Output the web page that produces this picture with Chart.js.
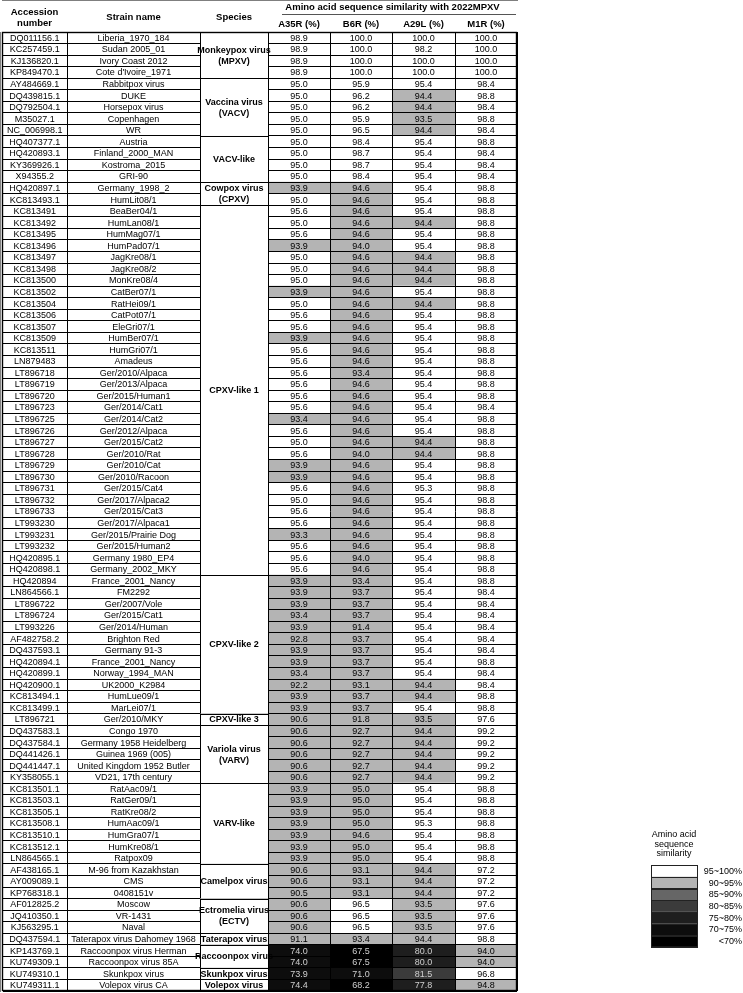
<!DOCTYPE html>
<html>
<head>
<meta charset="utf-8">
<script src="https://cdn.jsdelivr.net/npm/chart.js@4.4.1/dist/chart.umd.min.js"></script>
<style>
  html, body { margin: 0; padding: 0; background: #fff; }
  canvas { display: block; }
</style>
</head>
<body>
<canvas id="tbl" width="743" height="993"></canvas>
<script>
// rows, top to bottom
const accessions = [
  'DQ011156.1', 'KC257459.1', 'KJ136820.1', 'KP849470.1',
  'AY484669.1', 'DQ439815.1', 'DQ792504.1', 'M35027.1', 'NC_006998.1',
  'HQ407377.1', 'HQ420893.1', 'KY369926.1', 'X94355.2',
  'HQ420897.1', 'KC813493.1',
  'KC813491', 'KC813492', 'KC813495', 'KC813496', 'KC813497', 'KC813498', 'KC813500', 'KC813502',
  'KC813504', 'KC813506', 'KC813507', 'KC813509', 'KC813511', 'LN879483', 'LT896718', 'LT896719',
  'LT896720', 'LT896723', 'LT896725', 'LT896726', 'LT896727', 'LT896728', 'LT896729', 'LT896730',
  'LT896731', 'LT896732', 'LT896733', 'LT993230', 'LT993231', 'LT993232', 'HQ420895.1', 'HQ420898.1',
  'HQ420894', 'LN864566.1', 'LT896722', 'LT896724', 'LT993226', 'AF482758.2', 'DQ437593.1', 'HQ420894.1',
  'HQ420899.1', 'HQ420900.1', 'KC813494.1', 'KC813499.1',
  'LT896721',
  'DQ437583.1', 'DQ437584.1', 'DQ441426.1', 'DQ441447.1', 'KY358055.1',
  'KC813501.1', 'KC813503.1', 'KC813505.1', 'KC813508.1', 'KC813510.1', 'KC813512.1', 'LN864565.1',
  'AF438165.1', 'AY009089.1', 'KP768318.1',
  'AF012825.2', 'JQ410350.1', 'KJ563295.1',
  'DQ437594.1',
  'KP143769.1', 'KU749309.1',
  'KU749310.1',
  'KU749311.1'
];
const strains = [
  'Liberia_1970_184', 'Sudan 2005_01', 'Ivory Coast 2012', "Cote d'Ivoire_1971",
  'Rabbitpox virus', 'DUKE', 'Horsepox virus', 'Copenhagen', 'WR',
  'Austria', 'Finland_2000_MAN', 'Kostroma_2015', 'GRI-90',
  'Germany_1998_2', 'HumLit08/1',
  'BeaBer04/1', 'HumLan08/1', 'HumMag07/1', 'HumPad07/1', 'JagKre08/1', 'JagKre08/2', 'MonKre08/4', 'CatBer07/1',
  'RatHei09/1', 'CatPot07/1', 'EleGri07/1', 'HumBer07/1', 'HumGri07/1', 'Amadeus', 'Ger/2010/Alpaca', 'Ger/2013/Alpaca',
  'Ger/2015/Human1', 'Ger/2014/Cat1', 'Ger/2014/Cat2', 'Ger/2012/Alpaca', 'Ger/2015/Cat2', 'Ger/2010/Rat', 'Ger/2010/Cat', 'Ger/2010/Racoon',
  'Ger/2015/Cat4', 'Ger/2017/Alpaca2', 'Ger/2015/Cat3', 'Ger/2017/Alpaca1', 'Ger/2015/Prairie Dog', 'Ger/2015/Human2', 'Germany 1980_EP4', 'Germany_2002_MKY',
  'France_2001_Nancy', 'FM2292', 'Ger/2007/Vole', 'Ger/2015/Cat1', 'Ger/2014/Human', 'Brighton Red', 'Germany 91-3', 'France_2001_Nancy',
  'Norway_1994_MAN', 'UK2000_K2984', 'HumLue09/1', 'MarLei07/1',
  'Ger/2010/MKY',
  'Congo 1970', 'Germany 1958 Heidelberg', 'Guinea 1969 (005)', 'United Kingdom 1952 Butler', 'VD21, 17th century',
  'RatAac09/1', 'RatGer09/1', 'RatKre08/2', 'HumAac09/1', 'HumGra07/1', 'HumKre08/1', 'Ratpox09',
  'M-96 from Kazakhstan', 'CMS', '0408151v',
  'Moscow', 'VR-1431', 'Naval',
  'Taterapox virus Dahomey 1968',
  'Raccoonpox virus Herman', 'Raccoonpox virus 85A',
  'Skunkpox virus',
  'Volepox virus CA'
];

const speciesNames = [
  ['Monkeypox virus', '(MPXV)'], ['Vaccina virus', '(VACV)'], ['VACV-like'], ['Cowpox virus', '(CPXV)'],
  ['CPXV-like 1'], ['CPXV-like 2'], ['CPXV-like 3'], ['Variola virus', '(VARV)'], ['VARV-like'],
  ['Camelpox virus'], ['Ectromelia virus', '(ECTV)'], ['Taterapox virus'], ['Raccoonpox virus'],
  ['Skunkpox virus'], ['Volepox virus']
];
const speciesSizes = [4, 5, 4, 2, 32, 12, 1, 5, 7, 3, 3, 1, 2, 1, 1];

const geneNames = ['A35R (%)', 'B6R (%)', 'A29L (%)', 'M1R (%)'];

// similarity values (%); a few cells shaded one class lower than the rounded figure shows
const a35r = [
  98.9, 98.9, 98.9, 98.9,
  95.0, 95.0, 95.0, 95.0, 95.0,
  95.0, 95.0, 95.0, 95.0,
  93.9, 95.0,
  95.6, 95.0, 95.6, 93.9, 95.0, 95.0, 95.0, 93.9,
  95.0, 95.6, 95.6, 93.9, 95.6, 95.6, 95.6, 95.6,
  95.6, 95.6, 93.4, 95.6, 95.0, 95.6, 93.9, 93.9,
  95.6, 95.0, 95.6, 95.6, 93.3, 95.6, 95.6, 95.6,
  93.9, 93.9, 93.9, 93.4, 93.9, 92.8, 93.9, 93.9,
  93.4, 92.2, 93.9, 93.9,
  90.6,
  90.6, 90.6, 90.6, 90.6, 90.6,
  93.9, 93.9, 93.9, 93.9, 93.9, 93.9, 93.9,
  90.6, 90.6, 90.5,
  90.6, 90.6, 90.6,
  91.1,
  74.0, 74.0,
  73.9,
  74.4
];
const b6r = [
  100.0, 100.0, 100.0, 100.0,
  95.9, 96.2, 96.2, 95.9, 96.5,
  98.4, 98.7, 98.7, 98.4,
  94.6, 94.6,
  94.6, 94.6, 94.6, 94.0, 94.6, 94.6, 94.6, 94.6,
  94.6, 94.6, 94.6, 94.6, 94.6, 94.6, 93.4, 94.6,
  94.6, 94.6, 94.6, 94.6, 94.6, 94.0, 94.6, 94.6,
  94.6, 94.6, 94.6, 94.6, 94.6, 94.6, 94.0, 94.6,
  93.4, 93.7, 93.7, 93.7, 91.4, 93.7, 93.7, 93.7,
  93.7, 93.1, 93.7, 93.7,
  91.8,
  92.7, 92.7, 92.7, 92.7, 92.7,
  94.97, 94.97, 94.97, 94.97, 94.6, 94.97, 94.97,
  93.1, 93.1, 93.1,
  96.5, 96.5, 96.5,
  93.4,
  67.5, 67.5,
  71.0,
  68.2
];
const a29l = [
  100.0, 98.2, 100.0, 100.0,
  95.4, 94.4, 94.4, 93.5, 94.4,
  95.4, 95.4, 95.4, 95.4,
  95.4, 95.4,
  95.4, 94.4, 95.4, 95.4, 94.4, 94.4, 94.4, 95.4,
  94.4, 95.4, 95.4, 95.4, 95.4, 95.4, 95.4, 95.4,
  95.4, 95.4, 95.4, 95.4, 94.4, 94.4, 95.4, 95.4,
  95.3, 95.4, 95.4, 95.4, 95.4, 95.4, 95.4, 95.4,
  95.4, 95.4, 95.4, 95.4, 95.4, 95.4, 95.4, 95.4,
  95.4, 94.4, 94.4, 95.4,
  93.5,
  94.4, 94.4, 94.4, 94.4, 94.4,
  95.4, 95.4, 95.4, 95.3, 95.4, 95.4, 95.4,
  94.4, 94.4, 94.4,
  93.5, 93.5, 93.5,
  94.4,
  79.97, 79.97,
  81.5,
  77.8
];
const m1r = [
  100.0, 100.0, 100.0, 100.0,
  98.4, 98.8, 98.4, 98.8, 98.4,
  98.8, 98.4, 98.4, 98.4,
  98.8, 98.8,
  98.8, 98.8, 98.8, 98.8, 98.8, 98.8, 98.8, 98.8,
  98.8, 98.8, 98.8, 98.8, 98.8, 98.8, 98.8, 98.8,
  98.8, 98.4, 98.8, 98.8, 98.8, 98.8, 98.8, 98.8,
  98.8, 98.8, 98.8, 98.8, 98.8, 98.8, 98.8, 98.8,
  98.8, 98.4, 98.4, 98.4, 98.4, 98.4, 98.4, 98.8,
  98.4, 98.4, 98.8, 98.8,
  97.6,
  99.2, 99.2, 99.2, 99.2, 99.2,
  98.8, 98.8, 98.8, 98.8, 98.8, 98.8, 98.8,
  97.2, 97.2, 97.2,
  97.6, 97.6, 97.6,
  98.8,
  94.0, 94.0,
  96.8,
  94.8
];

const legendLabels = ['95~100%', '90~95%', '85~90%', '80~85%', '75~80%', '70~75%', '<70%'];
const legendBreaks = [95, 90, 85, 80, 75, 70];
const legendColors = ['#ffffff', '#b4b4b4', '#666666', '#3b3b3b', '#1e1e1e', '#0d0d0d', '#000000'];

// column edges in table units (accession | strain | species | 4 genes)
const colEdges = [0, 65, 198, 266, 328, 390, 453, 515];
const FONT = "'Liberation Sans', Arial, sans-serif";

function shade(v) {
  const i = legendBreaks.findIndex(b => v >= b);
  return legendColors[i === -1 ? legendColors.length - 1 : i];
}

const span = col => accessions.map(() => [colEdges[col], colEdges[col + 1]]);

const datasets = [
  { label: 'Accession number', data: span(0), backgroundColor: '#fff', texts: accessions },
  { label: 'Strain name', data: span(1), backgroundColor: '#fff', texts: strains },
  ...[a35r, b6r, a29l, m1r].map((vals, k) => ({
    label: geneNames[k],
    data: span(3 + k),
    backgroundColor: vals.map(shade),
    texts: vals.map(v => v.toFixed(1)),
    values: vals,
  })),
];

const tablePlugin = {
  id: 'tableText',
  afterDraw(chart) {
    const { ctx, chartArea: a, scales: { x, y } } = chart;
    const half = (y.getPixelForValue(1) - y.getPixelForValue(0)) / 2;
    const px = v => Math.round(v) + 0.5;
    ctx.save();
    ctx.textAlign = 'center';
    ctx.textBaseline = 'middle';

    // cell texts
    chart.data.datasets.forEach((ds, di) => {
      const meta = chart.getDatasetMeta(di);
      ctx.font = '9px ' + FONT;
      meta.data.forEach((bar, j) => {
        const dark = ds.values && ds.values[j] < 85;
        ctx.fillStyle = dark ? '#cfcfcf' : '#000';
        ctx.fillText(ds.texts[j], (bar.x + bar.base) / 2, bar.y + 0.5);
      });
    });

    // merged species cells
    const sl = x.getPixelForValue(colEdges[2]);
    const sr = x.getPixelForValue(colEdges[3]);
    let start = 0;
    ctx.strokeStyle = '#000';
    ctx.lineWidth = 1;
    speciesNames.forEach((lines, g) => {
      const n = speciesSizes[g];
      const top = y.getPixelForValue(start) - half;
      const bot = y.getPixelForValue(start + n - 1) + half;
      ctx.fillStyle = '#fff';
      ctx.fillRect(sl, top, sr - sl, bot - top);
      ctx.strokeRect(px(sl), px(top), px(sr) - px(sl), px(bot) - px(top));
      ctx.fillStyle = '#000';
      ctx.font = 'bold 9px ' + FONT;
      const mid = (top + bot) / 2;
      const lh = 11;
      lines.forEach((t, i) => {
        ctx.fillText(t, (sl + sr) / 2, mid + (i - (lines.length - 1) / 2) * lh + 0.5);
      });
      start += n;
    });

    // outer frame
    ctx.lineWidth = 1.4;
    ctx.strokeRect(a.left + 0.5, a.top + 0.5, a.right - a.left - 1, a.bottom - a.top - 1);

    // header
    const cx = i => x.getPixelForValue((colEdges[i] + colEdges[i + 1]) / 2);
    ctx.fillStyle = '#000';
    ctx.font = 'bold 9.5px ' + FONT;
    ctx.fillText('Accession', cx(0), a.top - 20);
    ctx.fillText('number', cx(0), a.top - 9);
    ctx.fillText('Strain name', cx(1), a.top - 15);
    ctx.fillText('Species', cx(2), a.top - 15);
    geneNames.forEach((t, k) => ctx.fillText(t, cx(3 + k), a.top - 8));
    const gl = x.getPixelForValue(colEdges[3]);
    const gr = x.getPixelForValue(colEdges[7]);
    ctx.fillText('Amino acid sequence similarity with 2022MPXV', (gl + gr) / 2, a.top - 25);
    ctx.strokeStyle = '#555';
    ctx.lineWidth = 1;
    ctx.beginPath();
    ctx.moveTo(gl + 14, px(a.top - 18));
    ctx.lineTo(gr - 1, px(a.top - 18));
    ctx.stroke();

    // colour key
    const kx = 651, kw = 46, ky = 865, kh = 11.7;
    ctx.font = '9px ' + FONT;
    ['Amino acid', 'sequence', 'similarity'].forEach((t, i) => ctx.fillText(t, 674, 835 + i * 9.5));
    legendColors.forEach((c, i) => {
      ctx.fillStyle = c;
      ctx.fillRect(kx, ky + i * kh, kw, kh);
    });
    ctx.strokeStyle = '#222';
    ctx.lineWidth = 1;
    legendColors.forEach((c, i) => {
      ctx.strokeRect(kx + 0.5, Math.round(ky + i * kh) + 0.5, kw, Math.round(kh));
    });
    ctx.fillStyle = '#000';
    ctx.textAlign = 'right';
    legendLabels.forEach((t, i) => ctx.fillText(t, 742, ky + (i + 0.5) * kh + 0.5));
    ctx.restore();
  }
};

new Chart(document.getElementById('tbl'), {
  type: 'bar',
  data: { labels: accessions, datasets },
  options: {
    indexAxis: 'y',
    responsive: false,
    animation: false,
    layout: { padding: { left: 2, right: 226, top: 32, bottom: 2 } },
    datasets: { bar: { grouped: false, barPercentage: 1, categoryPercentage: 1, borderWidth: 0 } },
    plugins: { legend: { display: false }, tooltip: { enabled: false } },
    scales: {
      x: {
        type: 'linear', min: colEdges[0], max: colEdges[colEdges.length - 1],
        afterBuildTicks: s => { s.ticks = colEdges.map(v => ({ value: v })); },
        ticks: { display: false },
        grid: { color: '#000', lineWidth: 1, drawTicks: false, z: 1 },
        border: { display: true, color: '#000' },
      },
      y: {
        type: 'category', offset: true,
        ticks: { display: false },
        grid: { offset: true, color: '#000', lineWidth: 1, drawTicks: false, z: 1 },
        border: { display: true, color: '#000' },
      },
    },
  },
  plugins: [tablePlugin],
});
</script>
</body>
</html>
